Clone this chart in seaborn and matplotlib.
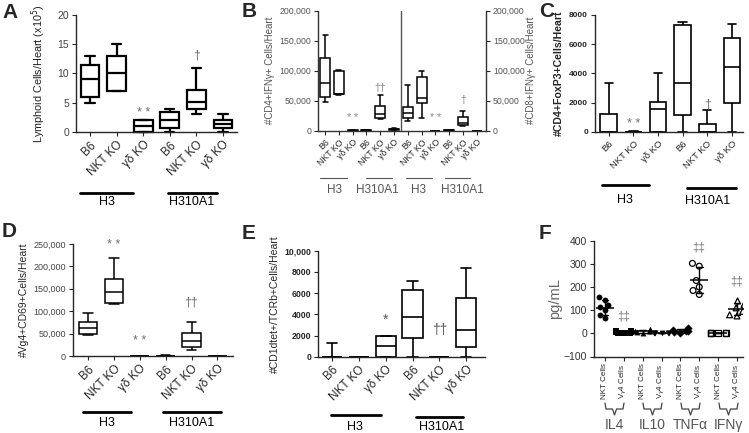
import numpy as np
import pandas as pd
import seaborn as sns
import matplotlib.pyplot as plt
from matplotlib.lines import Line2D
from matplotlib.ticker import FuncFormatter

W, H = 749, 433

strains = ["B6", "NKT KO", "γδ KO", "B6", "NKT KO", "γδ KO"]
b_strains = strains * 2

# box summaries: min, q1, median, q3, max
a_boxes = [[5, 6, 9, 11.5, 13], [7, 7, 10, 13, 15], [0, 0.05, 1, 2, 2],
           [0, 0.65, 2, 3.4, 4], [3, 4, 5.2, 7.1, 11], [0, 0.65, 1.4, 2.1, 3]]
b_boxes = [[48000, 57000, 79000, 122000, 160000], [60000, 60500, 62000, 99000, 101000],
           [0, 0, 200, 500, 800], [0, 300, 800, 1500, 2000],
           [19000, 22000, 28000, 42000, 60000], [500, 1500, 2500, 3500, 4500],
           [17000, 22000, 30000, 39000, 77000], [22000, 47000, 55000, 89000, 100000],
           [0, 0, 100, 200, 300], [0, 200, 500, 800, 1200],
           [7000, 10000, 13000, 23000, 33000], [0, 0, 100, 200, 300]]
c_boxes = [[0, 0, 0, 1250, 3350], [0, 0, 0, 30, 60], [0, 0, 1550, 2050, 4050],
           [0, 1140, 3360, 7310, 7540], [0, 0, 0, 520, 1480], [0, 2000, 4460, 6400, 7380]]
d_boxes = [[47000, 48000, 61500, 75000, 95000], [117000, 119000, 143000, 171000, 218000],
           [0, 0, 0, 0, 0], [0, 200, 500, 1000, 1500],
           [13000, 20000, 33000, 51000, 77000], [0, 0, 0, 0, 0]]
e_boxes = [[0, 0, 0, 0, 1300], [0, 0, 0, 0, 0], [0, 0, 1000, 2000, 2000],
           [0, 1810, 3720, 6280, 7150], [0, 0, 0, 0, 0], [0, 940, 2500, 5560, 8400]]

# panel F cytokines (pg/mL)
f_cats = ["IL4 NKT", "IL4 Vg4", "IL10 NKT", "IL10 Vg4", "TNFa NKT", "TNFa Vg4", "IFNg NKT", "IFNg Vg4"]
f_vals = {
    "IL4 NKT": [155, 145, 122, 112, 100, 80, 65],
    "IL4 Vg4": [0, 2, 4, 6, 8, 10, 3],
    "IL10 NKT": [18, 12, 8, 5, 2, 10],
    "IL10 Vg4": [0, 1, 2, 1, 0, 2],
    "TNFa NKT": [25, 15, 10, 6, 2, 8],
    "TNFa Vg4": [302, 290, 228, 200, 185, 168],
    "IFNg NKT": [0, 1, 0, 2, 1, 0],
    "IFNg Vg4": [140, 125, 110, 95, 80, 75],
}
f_markers = ["o", "s", "^", "v", "D", "o", "s", "^"]
f_open = [False, False, False, False, False, True, True, True]
f_ticklabels = ["NKT Cells", r"V$_\gamma$4 Cells"] * 4
f_cytokines = ["IL4", "IL10", "TNFα", "IFNγ"]

sns.set_style("ticks")
plt.rcParams["font.family"] = ["Liberation Sans", "DejaVu Sans"]
plt.rcParams["axes.linewidth"] = 1.0
plt.rcParams["xtick.major.size"] = 3
plt.rcParams["ytick.major.size"] = 3
plt.rcParams["xtick.major.pad"] = 2
plt.rcParams["ytick.major.pad"] = 2

fig = plt.figure(figsize=(W / 100, H / 100), dpi=100)
GRAY = "#6e6e6e"


def px_axes(left, top, right, bottom):
    return fig.add_axes([left / W, 1 - bottom / H, (right - left) / W, (bottom - top) / H])


def fig_line(x0, x1, y, color="black", lw=2):
    fig.add_artist(Line2D([x0 / W, x1 / W], [1 - y / H, 1 - y / H],
                          transform=fig.transFigure, color=color, lw=lw))


def fig_text(x, y, s, **kw):
    kw.setdefault("ha", "center")
    kw.setdefault("va", "center")
    fig.text(x / W, 1 - y / H, s, **kw)


def letter(x, y, s):
    fig.text(x / W, 1 - y / H, s, fontsize=15, fontweight="bold", ha="left", va="top")


def draw_boxes(ax, boxes, lw, width):
    df = pd.DataFrame([(i, v) for i, b in enumerate(boxes) for v in b], columns=["pos", "val"])
    sns.boxplot(data=df, x="pos", y="val", order=list(range(len(boxes))), whis=(0, 100),
                width=width, color="white", linecolor="black", linewidth=lw, ax=ax)
    for art in ax.get_children():
        art.set_clip_on(False)
    ax.set_xlabel("")
    sns.despine(ax=ax)


def group_labels(spec, color="black", lw=2, fs=9):
    for x0, x1, ly, tx, ty, s in spec:
        fig_line(x0, x1, ly, color, lw)
        fig_text(tx, ty, s, fontsize=fs, color=color)


def notes(ax, spec, fs=9, color=GRAY):
    for x, y, s in spec:
        ax.text(x, y, s, ha="center", va="center", fontsize=fs, color=color)


comma = FuncFormatter(lambda v, p: f"{int(v):,}")

# ---------------- A
ax = px_axes(76, 15, 237, 132)
draw_boxes(ax, a_boxes, 1.6, 0.7)
ax.set_ylim(0, 20)
ax.set_yticks([0, 5, 10, 15, 20])
ax.set_xlim(-0.53, 5.53)
ax.set_xticks(range(6))
ax.set_xticklabels(strains, rotation=45, ha="right", rotation_mode="anchor", fontsize=8.5)
ax.tick_params(axis="y", labelsize=7.5, labelcolor="#444")
ax.set_ylabel("Lymphoid Cells/Heart (x10$^5$)", fontsize=7.8, labelpad=7, color="#222")
notes(ax, [(2, 3.2, "* *"), (4, 13.0, "†")])
group_labels([(80, 133, 193, 107, 202, "H3"), (168, 217, 193, 192, 202, "H310A1")])
letter(2, 3, "A")

# ---------------- B
ax = px_axes(318, 10.7, 486, 130.7)
draw_boxes(ax, b_boxes, 1.1, 0.72)
ax.set_ylim(0, 200000)
ax.set_xlim(-0.51, 11.67)
ax.yaxis.set_major_formatter(comma)
ax.set_yticks(range(0, 200001, 50000))
ax.set_xticks(range(12))
ax.set_xticklabels(b_strains, rotation=45, ha="right", rotation_mode="anchor", fontsize=6.3)
ax.tick_params(axis="y", labelsize=6.3, labelcolor="#555")
ax.set_ylabel("#CD4+IFNγ+ Cells/Heart", fontsize=7, color="#555", labelpad=3)
ax.axvline(5.5, color="#555", lw=1)
for sp in ax.spines.values():
    sp.set_color("#333")
axr = ax.twinx()
axr.set_ylim(0, 200000)
axr.set_yticks(range(0, 200001, 50000))
axr.yaxis.set_major_formatter(comma)
axr.tick_params(axis="y", labelsize=6.3, labelcolor="#555", length=3)
axr.spines["top"].set_visible(False)
axr.spines["left"].set_visible(False)
axr.spines["bottom"].set_visible(False)
axr.spines["right"].set_color("#333")
axr.set_ylabel("#CD8+IFNγ+ Cells/Heart", fontsize=7, color="#555", labelpad=1)
notes(ax, [(2, 21000, "* *"), (4, 72000, "††"), (8, 21000, "* *"), (10, 51000, "†")], fs=7.5, color="#888")
group_labels([(320, 347, 178, 334, 190, "H3"), (366, 392, 178, 377, 190, "H310A1"),
              (406, 432, 178, 418, 190, "H3"), (445, 470, 178, 462, 190, "H310A1")],
             color="#555", lw=0.8, fs=8.5)
letter(242, 2, "B")

# ---------------- C
ax = px_axes(595, 15, 743, 132)
draw_boxes(ax, c_boxes, 1.2, 0.68)
ax.set_ylim(0, 8000)
ax.set_yticks(range(0, 8001, 2000))
ax.set_xlim(-0.56, 5.45)
ax.set_xticks(range(6))
ax.set_xticklabels(strains, rotation=45, ha="right", rotation_mode="anchor", fontsize=6.8)
ax.tick_params(axis="y", labelsize=6)
for t in ax.get_yticklabels():
    t.set_fontweight("bold")
ax.set_ylabel("#CD4+FoxP3+Cells/Heart", fontsize=7.6, fontweight="bold", labelpad=4)
notes(ax, [(1, 550, "* *"), (4, 1900, "†")])
group_labels([(602, 649, 185, 625, 200, "H3"), (687, 736, 188, 708, 201, "H310A1")])
letter(539, 2, "C")

# ---------------- D
ax = px_axes(73, 244, 233, 356)
draw_boxes(ax, d_boxes, 1.1, 0.72)
ax.set_ylim(0, 250000)
ax.set_yticks(range(0, 250001, 50000))
ax.yaxis.set_major_formatter(comma)
ax.set_xlim(-0.58, 5.6)
ax.set_xticks(range(6))
ax.set_xticklabels(strains, rotation=45, ha="right", rotation_mode="anchor", fontsize=8.5)
ax.tick_params(axis="y", labelsize=6.5, labelcolor="#444")
ax.set_ylabel("#Vg4+CD69+Cells/Heart", fontsize=7.5, labelpad=3)
notes(ax, [(1, 247000, "* *"), (2, 33000, "* *"), (4, 120000, "††")])
group_labels([(83, 131, 412, 107, 423, "H3"), (163, 221, 412, 192, 423, "H310A1")])
letter(2, 222, "D")

# ---------------- E
ax = px_axes(318, 250.7, 485, 356.7)
draw_boxes(ax, e_boxes, 1.2, 0.75)
ax.set_ylim(0, 10000)
ax.set_yticks(range(0, 10001, 2000))
ax.set_yticklabels(["0", "2000", "4000", "6000", "8000", "10,000"])
ax.set_xlim(-0.52, 5.7)
ax.set_xticks(range(6))
ax.set_xticklabels(strains, rotation=45, ha="right", rotation_mode="anchor", fontsize=8.5)
ax.tick_params(axis="y", labelsize=6.3)
for t in ax.get_yticklabels():
    t.set_fontweight("bold")
ax.set_ylabel("#CD1dtet+/TCRb+Cells/Heart", fontsize=7.5, labelpad=3)
notes(ax, [(2, 3440, "*"), (4, 2500, "††")], fs=10, color="#555")
group_labels([(331, 381, 415, 355, 427, "H3"), (416, 463, 417, 442, 427, "H310A1")])
letter(242, 224, "E")

# ---------------- F
ax = px_axes(594, 240.7, 743, 356.5)
f_df = pd.DataFrame([(c, v) for c in f_cats for v in f_vals[c]], columns=["cat", "val"])
for c, m, op in zip(f_cats, f_markers, f_open):
    n0 = len(ax.collections)
    sns.swarmplot(data=f_df[f_df["cat"] == c], x="cat", y="val", order=f_cats, marker=m,
                  size=4.2, color="black", warn_thresh=1.0, ax=ax)
    if op:
        for col in ax.collections[n0:]:
            col.set_facecolor("none")
            col.set_edgecolor("black")
            col.set_linewidth(0.9)
sns.pointplot(data=f_df, x="cat", y="val", order=f_cats, errorbar="sd", capsize=0.35,
              marker="_", markersize=13, markeredgewidth=1.1, linestyle="none",
              color="black", err_kws={"linewidth": 1}, ax=ax)
ax.set_ylim(-100, 400)
ax.set_yticks(range(-100, 401, 100))
ax.set_xlim(-0.58, 7.32)
ax.set_xticks(range(8))
ax.set_xticklabels(f_ticklabels, rotation=90, fontsize=5.8)
ax.tick_params(axis="y", labelsize=7.5, labelcolor="#333")
ax.set_xlabel("")
ax.set_ylabel("pg/mL", fontsize=10.5, color="#666", labelpad=1)
sns.despine(ax=ax)
notes(ax, [(1, 72, "‡‡"), (5, 372, "‡‡"), (7, 222, "‡‡")], fs=8.5, color="#777")
pair_x = [(605, 624), (643, 662), (681, 700), (719, 738)]
for (x0, x1), name in zip(pair_x, f_cytokines):
    xc = (x0 + x1) / 2
    xs = [x0, x0 + 1, xc - 2, xc, xc + 2, x1 - 1, x1]
    ys = [403, 409, 409, 415, 409, 409, 403]
    fig.add_artist(Line2D([x / W for x in xs], [1 - y / H for y in ys],
                          transform=fig.transFigure, color="#444", lw=0.9))
    fig_text(xc, 425, name, fontsize=10, color="#555")
letter(539, 224, "F")

fig.savefig("out.png", dpi=100)
